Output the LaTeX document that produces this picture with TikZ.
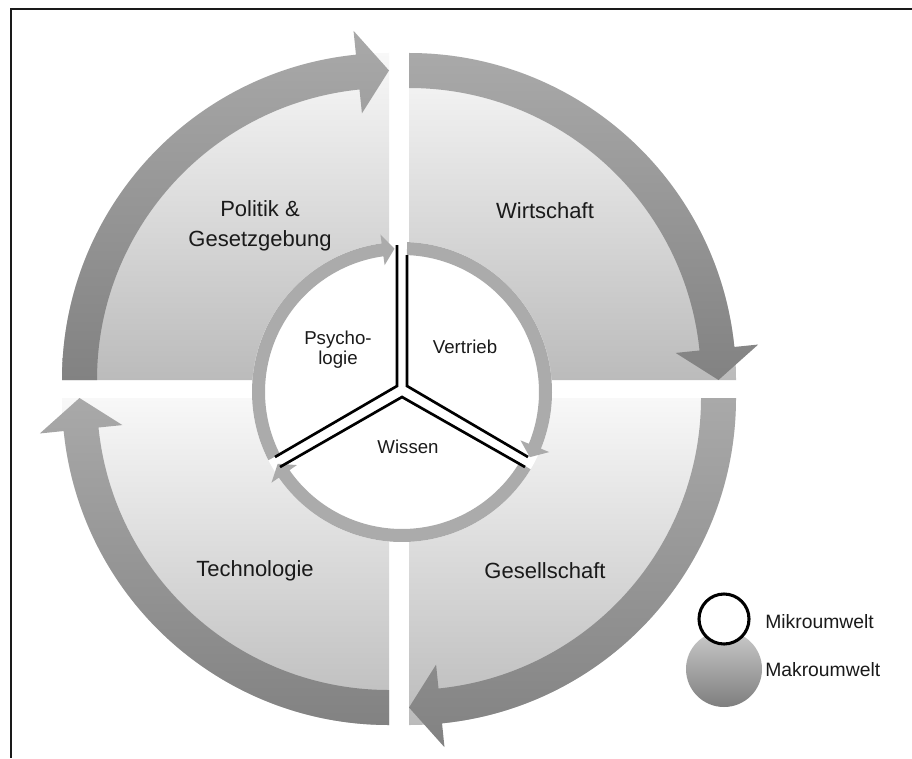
\documentclass[tikz,border=0pt]{standalone}
\usepackage{fontspec}
\setmainfont{Liberation Sans}
\usetikzlibrary{calc}

\definecolor{fillTop}{HTML}{F8F8F8}
\definecolor{fillBot}{HTML}{BBBBBB}
\definecolor{bandTop}{HTML}{A9A9A9}
\definecolor{bandBot}{HTML}{828282}
\definecolor{ringGray}{HTML}{ABABAB}
\definecolor{ink}{HTML}{1A1A1A}
\definecolor{legTop}{HTML}{CACACA}
\definecolor{legBot}{HTML}{7E7E7E}

% outer quadrant geometry
\def\qOut{327}
\def\qIn{292}
\def\qMid{309.5}
\def\qHeadOut{351}
\def\qHeadIn{268}
\def\qHeadAng{5.8}
% inner ring geometry
\def\rOut{150}
\def\rIn{137}
\def\rMid{143.5}
\def\rHeadOut{159}
\def\rHeadIn{128}
\def\rHeadAng{4.8}

% #1 corner, #2 angle of the flat end, #3 angle of the arrow tip (clockwise)
\newcommand{\envquadrant}[3]{%
  \shade[top color=fillTop,bottom color=fillBot]
    (#1) -- ($(#1)+(#2:\qOut)$) arc[start angle=#2,end angle=#3,radius=\qOut] -- cycle;
  \shade[top color=bandTop,bottom color=bandBot]
    ($(#1)+(#2:\qOut)$) arc[start angle=#2,end angle={#3+\qHeadAng},radius=\qOut]
    -- ($(#1)+({#3+\qHeadAng}:\qHeadOut)$)
    -- ($(#1)+(#3:\qMid)$)
    -- ($(#1)+({#3+\qHeadAng}:\qHeadIn)$)
    -- ($(#1)+({#3+\qHeadAng}:\qIn)$)
    arc[start angle={#3+\qHeadAng},end angle=#2,radius=\qIn] -- cycle;
}

% #1 start angle, #2 tip angle (clockwise) of a ring arrow around (C)
\newcommand{\ringarrow}[2]{%
  \fill[ringGray]
    ($(C)+(#1:\rOut)$) arc[start angle=#1,end angle={#2+\rHeadAng},radius=\rOut]
    -- ($(C)+({#2+\rHeadAng}:\rHeadOut)$)
    -- ($(C)+(#2:\rMid)$)
    -- ($(C)+({#2+\rHeadAng}:\rHeadIn)$)
    -- ($(C)+({#2+\rHeadAng}:\rIn)$)
    arc[start angle={#2+\rHeadAng},end angle=#1,radius=\rIn] -- cycle;
}

\tikzset{
  lab/.style={text=ink,font=\fontsize{16.5}{22.5}\selectfont,align=center,inner sep=0pt},
  innerlab/.style={text=ink,font=\fontsize{14}{15}\selectfont,align=center,inner sep=0pt},
  leglab/.style={text=ink,font=\fontsize{14.5}{17}\selectfont,anchor=west,inner sep=0pt},
  divider/.style={draw=black,line width=2pt,line join=miter},
  frame/.style={draw=ink,line width=1.3pt}
}

\begin{document}
\begin{tikzpicture}[x=0.75pt,y=0.75pt]
\useasboundingbox (0,0) rectangle (912,758);
\fill[white] (0,0) rectangle (912,758);

% frame lines
\coordinate (fTL) at (11,749);
\coordinate (fTR) at (912,749);
\coordinate (fBL) at (11,0);
\draw[frame] (fTR) -- (fTL) -- (fBL);

% outer ring of four quadrants
\coordinate (qTL) at (389,378);
\coordinate (qTR) at (409,378);
\coordinate (qBR) at (409,360);
\coordinate (qBL) at (389,360);
\envquadrant{qTL}{180}{90}
\envquadrant{qTR}{90}{0}
\envquadrant{qBR}{0}{-90}
\envquadrant{qBL}{-90}{-180}

% inner disc
\coordinate (C) at (402,366);
\fill[white] (C) circle[radius=\rOut];
\ringarrow{207}{93}
\ringarrow{88}{-27}
\ringarrow{-31}{-150}

% sector dividers
\coordinate (pTop) at (397,513);
\coordinate (pApex) at (397,372);
\coordinate (pLow) at (275,301);
\coordinate (vTop) at (407,503);
\coordinate (vApex) at (407,372);
\coordinate (vLow) at (528,301);
\coordinate (wLeft) at (280,291);
\coordinate (wApex) at (402,361);
\coordinate (wRight) at (525,291);
\draw[divider] (pTop) -- (pApex) -- (pLow);
\draw[divider] (vTop) -- (vApex) -- (vLow);
\draw[divider] (wLeft) -- (wApex) -- (wRight);

% labels
\node[lab] (politik) at (260,532) {Politik \&\\Gesetzgebung};
\node[lab] (wirtschaft) at (545,547) {Wirtschaft};
\node[lab] (technologie) at (255,187) {Technologie};
\node[lab] (gesellschaft) at (545,187) {Gesellschaft};
\node[innerlab] (psycho) at (338,408) {Psycho-\\logie};
\node[innerlab] (vertrieb) at (465,411) {Vertrieb};
\node[innerlab] (wissen) at (408,311) {Wissen};

% legend
\coordinate (makroC) at (724,89);
\coordinate (mikroC) at (724,139);
\shade[top color=legTop,bottom color=legBot] (makroC) circle[radius=38];
\draw[black,line width=2.3pt,fill=white] (mikroC) circle[radius=25];
\node[leglab] (mikro) at (765,136) {Mikroumwelt};
\node[leglab] (makro) at (765,88) {Makroumwelt};
\end{tikzpicture}
\end{document}
